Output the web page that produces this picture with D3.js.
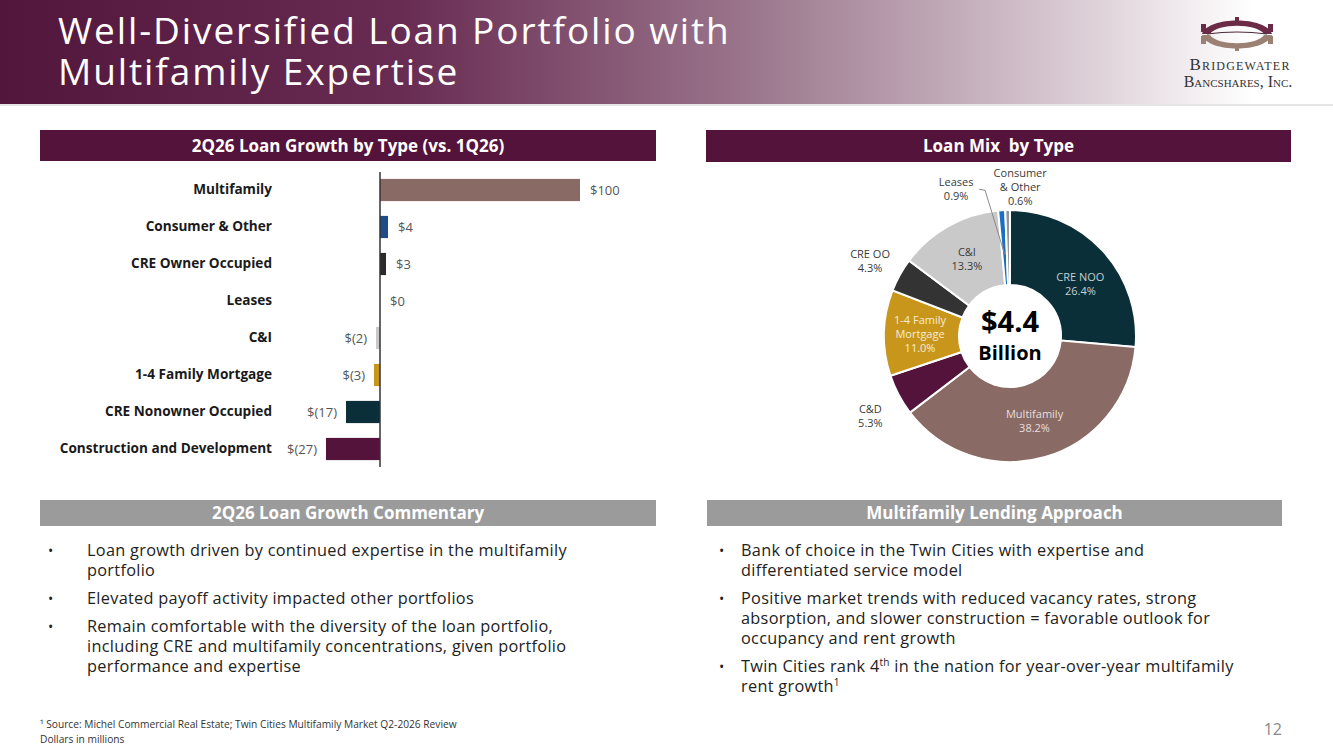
<!DOCTYPE html>
<html>
<head>
<meta charset="utf-8">
<script src="https://cdn.jsdelivr.net/npm/d3@7"></script>
<style>
  body { margin: 0; background: #fff; }
  svg { display: block; font-family: "Open Sans", "Noto Sans", sans-serif; }
</style>
</head>
<body>
<script>
// Bar chart data: 2Q26 loan growth vs. 1Q26 (dollars in millions)
var growthCats = ["Multifamily", "Consumer & Other", "CRE Owner Occupied", "Leases", "C&I",
  "1-4 Family Mortgage", "CRE Nonowner Occupied", "Construction and Development"];
var growthVals = [100, 4, 3, 0, -2, -3, -17, -27];
var growthColors = ["#8a6a64", "#1f4b87", "#2b2b2b", "#2b2b2b", "#c9c9c9", "#c9961c", "#0b2f38", "#54133a"];

// Donut data: loan mix by type (%)
var mixCats = ["CRE NOO", "Multifamily", "C&D", "1-4 Family Mortgage", "CRE OO", "C&I", "Leases", "Consumer & Other"];
var mixPct = [26.4, 38.2, 5.3, 11.0, 4.3, 13.3, 0.9, 0.6];
var mixColors = ["#0b2f38", "#8a6a64", "#54133a", "#c9961c", "#333333", "#c9c9c9", "#1b6ec2", "#8e989e"];
var mixLabelLines = [["CRE NOO"], ["Multifamily"], ["C&D"], ["1-4 Family", "Mortgage"], ["CRE OO"], ["C&I"], ["Leases"], ["Consumer", "& Other"]];

// Commentary text
var commentary = [
  ["Loan growth driven by continued expertise in the multifamily", "portfolio"],
  ["Elevated payoff activity impacted other portfolios"],
  ["Remain comfortable with the diversity of the loan portfolio,", "including CRE and multifamily concentrations, given portfolio", "performance and expertise"]
];
var approach = [
  ["Bank of choice in the Twin Cities with expertise and", "differentiated service model"],
  ["Positive market trends with reduced vacancy rates, strong", "absorption, and slower construction = favorable outlook for", "occupancy and rent growth"],
  ["Twin Cities rank 4|th| in the nation for year-over-year multifamily", "rent growth|1|"]
];

var svgWidth = 1333, svgHeight = 749;
var maroon = "#54133a";

var svg = d3.select("body").append("svg")
  .attr("width", svgWidth)
  .attr("height", svgHeight);

// ---- header band ----
var defs = svg.append("defs");
var grad = defs.append("linearGradient").attr("id", "hdr").attr("x1", "0").attr("x2", "1").attr("y1", "0").attr("y2", "0");
[[0, "#52163c"], [0.3, "#682b52"], [0.57, "#9c788e"], [0.8, "#d8c9d2"], [0.94, "#ffffff"], [1, "#ffffff"]].forEach(function(s) {
  grad.append("stop").attr("offset", s[0]).attr("stop-color", s[1]);
});
svg.append("rect").attr("width", svgWidth).attr("height", 104).attr("fill", "url(#hdr)");
svg.append("rect").attr("y", 104).attr("width", svgWidth).attr("height", 2).attr("fill", "#e6e6e6");

svg.append("text").attr("x", 58).attr("y", 44).attr("fill", "#fff")
  .style("font-size", "37px").style("letter-spacing", "1.9px")
  .text("Well-Diversified Loan Portfolio with");
svg.append("text").attr("x", 58).attr("y", 85).attr("fill", "#fff")
  .style("font-size", "37px").style("letter-spacing", "1.9px")
  .text("Multifamily Expertise");

// logo
var logo = svg.append("g").attr("transform", "translate(1237,34)");
logo.append("path")
  .attr("d", "M-35,0 C-29,-18 29,-18 35,0 L27,0 C20,-11 -20,-11 -27,0 Z")
  .attr("fill", "#6b2a45");
logo.append("path")
  .attr("d", "M-35,1 C-29,19 29,19 35,1 L27,1 C20,12 -20,12 -27,1 Z")
  .attr("fill", "#9b8074");
logo.append("path").attr("d", "M-30,0 Q0,-4 30,0").attr("stroke", "#4a2a3a").attr("stroke-width", 1.2).attr("fill", "none");
[-36, 31].forEach(function(px) {
  logo.append("rect").attr("x", px).attr("y", -10).attr("width", 5).attr("height", 8).attr("fill", "#6b2a45");
  logo.append("rect").attr("x", px).attr("y", 2).attr("width", 5).attr("height", 8).attr("fill", "#9b8074");
});
logo.append("rect").attr("x", -2).attr("y", -17).attr("width", 4).attr("height", 4).attr("fill", "#6b2a45");
logo.append("rect").attr("x", -2).attr("y", 13).attr("width", 4).attr("height", 4).attr("fill", "#9b8074");
svg.append("text").attr("x", 1240).attr("y", 70).attr("text-anchor", "middle").attr("fill", "#333")
  .style("font-family", "'Liberation Serif', 'DejaVu Serif', serif").style("font-size", "17px")
  .style("font-variant", "small-caps").style("letter-spacing", "1.2px").text("Bridgewater");
svg.append("text").attr("x", 1238).attr("y", 87).attr("text-anchor", "middle").attr("fill", "#333")
  .style("font-family", "'Liberation Serif', 'DejaVu Serif', serif").style("font-size", "16px")
  .style("font-variant", "small-caps").text("Bancshares, Inc.");

// ---- section header bars ----
function sectionBar(x, y, w, h, fill, label) {
  svg.append("rect").attr("x", x).attr("y", y).attr("width", w).attr("height", h).attr("fill", fill);
  svg.append("text").attr("x", x + w / 2).attr("y", y + h / 2 + 6).attr("text-anchor", "middle")
    .attr("fill", "#fff").style("font-size", "17px").style("font-weight", "bold")
    .style("white-space", "pre").text(label);
}
sectionBar(40, 130, 616, 31, maroon, "2Q26 Loan Growth by Type (vs. 1Q26)");
sectionBar(706, 130, 585, 32, maroon, "Loan Mix  by Type");
sectionBar(40, 500, 616, 26, "#9b9b9b", "2Q26 Loan Growth Commentary");
sectionBar(707, 500, 575, 26, "#9b9b9b", "Multifamily Lending Approach");

// ---- bar chart ----
var xScale = d3.scaleLinear().domain([0, 100]).range([380, 580]);
var yScale = d3.scaleBand().domain(growthCats).range([171.5, 467.5]).paddingInner(0.4).paddingOuter(0.2);
var fmt = function(v) { return v < 0 ? "$(" + Math.abs(v) + ")" : "$" + v; };

var bars = svg.append("g");
bars.selectAll("rect")
  .data(growthVals)
  .enter()
  .append("rect")
  .attr("x", function(d) { return xScale(Math.min(0, d)); })
  .attr("y", function(d, i) { return yScale(growthCats[i]); })
  .attr("width", function(d) { return Math.abs(xScale(d) - xScale(0)); })
  .attr("height", yScale.bandwidth())
  .attr("fill", function(d, i) { return growthColors[i]; });

// zero line
svg.append("line").attr("x1", xScale(0)).attr("x2", xScale(0))
  .attr("y1", 172).attr("y2", 467).attr("stroke", "#333").attr("stroke-width", 1.5);

// category labels
var leftAxis = d3.axisLeft(yScale).tickSize(0).tickPadding(0);
var axisG = svg.append("g").attr("transform", "translate(272,0)").call(leftAxis);
axisG.select(".domain").remove();
axisG.selectAll("text").attr("fill", "#1a1a1a").style("font-size", "13.6px").style("font-weight", "bold")
  .style("font-family", "'Open Sans', sans-serif");

// value labels
bars.selectAll("text")
  .data(growthVals)
  .enter()
  .append("text")
  .attr("x", function(d) { return d < 0 ? xScale(d) - 9 : xScale(d) + 10; })
  .attr("y", function(d, i) { return yScale(growthCats[i]) + yScale.bandwidth() / 2 + 5; })
  .attr("text-anchor", function(d) { return d < 0 ? "end" : "start"; })
  .attr("fill", "#555").style("font-size", "13px")
  .text(fmt);

// ---- donut ----
var cx = 1010, cy = 336;
var outerR = 126, innerR = 51;
var pie = d3.pie().sort(null).value(function(d) { return d; });
var arcs = pie(mixPct);
var arc = d3.arc().innerRadius(innerR).outerRadius(outerR);
var donut = svg.append("g").attr("transform", "translate(" + cx + "," + cy + ")");
donut.selectAll("path")
  .data(arcs)
  .enter()
  .append("path")
  .attr("d", arc)
  .attr("fill", function(d, i) { return mixColors[i]; })
  .attr("stroke", "#fff")
  .attr("stroke-width", 2);

// label placement: radius and extra shift per slice, plus text colour
var labelR = [90, 88, 158, 90, 160, 88, 150, 150];
var labelDx = [4, 0, 0, 0, 0, 0, -44, 13];
var labelDy = [9, 0, 6, 0, 3, 0, 3, 1];
var labelFill = ["#c5d0d3", "#e8dfdc", "#3a3a3a", "#f5ecd2", "#3a3a3a", "#3a3a3a", "#3a3a3a", "#3a3a3a"];

arcs.forEach(function(a, i) {
  var c = d3.arc().innerRadius(labelR[i]).outerRadius(labelR[i]).centroid(a);
  var lines = mixLabelLines[i].concat([mixPct[i].toFixed(1) + "%"]);
  var t = donut.append("text").attr("text-anchor", "middle").attr("fill", labelFill[i]).style("font-size", "11px");
  var y0 = c[1] + labelDy[i] - (lines.length - 1) * 14 / 2 + 4;
  lines.forEach(function(l, j) {
    t.append("tspan").attr("x", c[0] + labelDx[i]).attr("y", y0 + j * 14).text(l);
  });
});

// leader line for Leases
var leasesInner = d3.arc().innerRadius(82).outerRadius(82).centroid(arcs[6]);
var leasesLbl = d3.arc().innerRadius(labelR[6]).outerRadius(labelR[6]).centroid(arcs[6]);
donut.append("path")
  .attr("d", "M" + (leasesLbl[0] + labelDx[6] + 23) + "," + (leasesLbl[1] + 3) +
    " L" + (leasesLbl[0] + labelDx[6] + 29) + "," + (leasesLbl[1] + 4) +
    " L" + leasesInner[0] + "," + leasesInner[1])
  .attr("fill", "none").attr("stroke", "#8a8a8a").attr("stroke-width", 1);

// center text
donut.append("text").attr("text-anchor", "middle").attr("y", -4).attr("fill", "#000")
  .style("font-size", "29px").style("font-weight", "bold").text("$4.4");
donut.append("text").attr("text-anchor", "middle").attr("y", 24).attr("fill", "#000")
  .style("font-size", "20px").style("font-weight", "bold").text("Billion");

// ---- bullet lists ----
function bulletList(items, bx, tx, y0) {
  var y = y0;
  items.forEach(function(lines) {
    svg.append("text").attr("x", bx).attr("y", y).attr("fill", "#222").style("font-size", "14px").text("•");
    lines.forEach(function(l) {
      var t = svg.append("text").attr("x", tx).attr("y", y).attr("fill", "#222")
        .style("font-size", "16.3px").style("letter-spacing", "0.3px");
      l.split("|").forEach(function(part, k) {
        if (k % 2 === 1) {
          t.append("tspan").attr("dy", -6).style("font-size", "10px").text(part);
        } else {
          t.append("tspan").attr("dy", k === 0 ? 0 : 6).text(part);
        }
      });
      y += 20;
    });
    y += 8;
  });
}
bulletList(commentary, 48, 87, 556);
bulletList(approach, 719, 741, 556);

// ---- footer ----
svg.append("text").attr("x", 40).attr("y", 728).attr("fill", "#333").style("font-size", "10.2px")
  .text("¹ Source: Michel Commercial Real Estate; Twin Cities Multifamily Market Q2-2026 Review");
svg.append("text").attr("x", 40).attr("y", 743).attr("fill", "#333").style("font-size", "10.2px").text("Dollars in millions");
svg.append("text").attr("x", 1282).attr("y", 735).attr("text-anchor", "end").attr("fill", "#888")
  .style("font-size", "16px").text("12");
</script>
</body>
</html>
